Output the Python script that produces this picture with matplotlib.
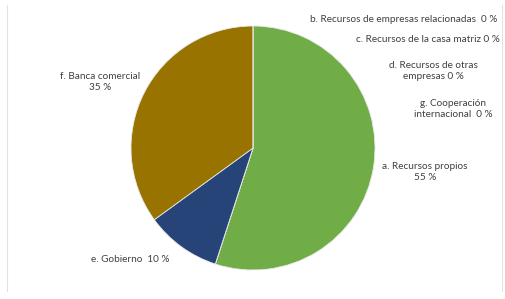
import matplotlib.pyplot as plt
from matplotlib.lines import Line2D

W, H = 505, 299

# data
labels = ["a. Recursos propios", "b. Recursos de empresas relacionadas",
          "c. Recursos de la casa matriz", "d. Recursos de otras\nempresas",
          "e. Gobierno", "f. Banca comercial", "g. Cooperación\ninternacional"]
values = [55, 0, 0, 0, 10, 35, 0]
colors = ["#70AD47", "#5B9BD5", "#ED7D31", "#A5A5A5", "#264478", "#997300", "#FFC000"]

plt.rcParams['font.family'] = ['Lato', 'DejaVu Sans']

fig = plt.figure(figsize=(W / 100, H / 100), dpi=100)
fig.patch.set_facecolor("white")

# faint vertical edges of the original frame
for xp in (6.5, 501.5):
    fig.add_artist(Line2D([xp / W, xp / W], [1 - 5 / H, 1 - 291 / H], transform=fig.transFigure,
                          color="#e2e2e2", linewidth=0.8))

cx, cy, r = 253, 148, 122
ax = fig.add_axes([(cx - r) / W, (H - cy - r) / H, 2 * r / W, 2 * r / H])
ax.pie(values, colors=colors, startangle=90, counterclock=False, radius=1,
       wedgeprops=dict(edgecolor="#e8e8e8", linewidth=0.6))
ax.set_xlim(-1, 1)
ax.set_ylim(-1, 1)
ax.set_aspect("auto")
ax.axis("off")


def lab(x, y, s, ha="center"):
    fig.text(x / W, 1 - y / H, s, ha=ha, va="center", fontsize=7.2,
             color="#404040", linespacing=1.35)


lab(497, 19, f"{labels[1]}  {values[1]} %", ha="right")
lab(500, 40, f"{labels[2]} {values[2]} %", ha="right")
lab(433, 71, f"{labels[3]} {values[3]} %")
lab(453, 109, f"{labels[6]}  {values[6]} %")
lab(425, 172, f"{labels[0]}\n{values[0]} %")
lab(100, 82, f"{labels[5]}\n{values[5]} %")
lab(130, 260, f"{labels[4]}  {values[4]} %")

fig.savefig("out.png", dpi=100)
